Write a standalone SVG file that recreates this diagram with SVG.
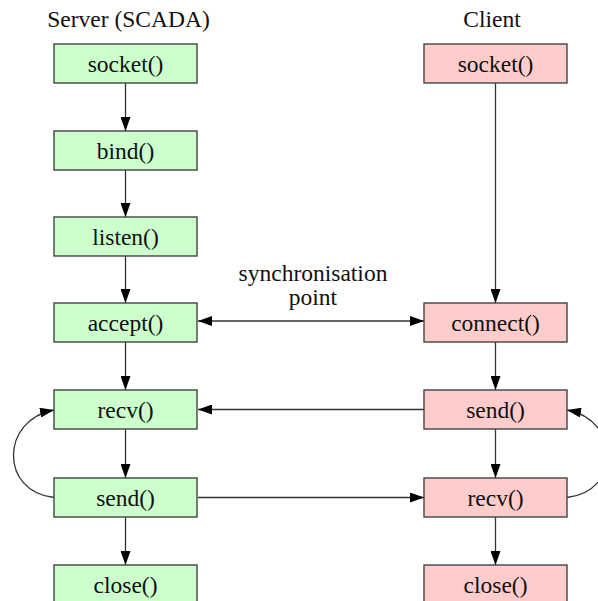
<svg xmlns="http://www.w3.org/2000/svg" width="598" height="601" viewBox="0 0 598 601">
<style>
text{font-family:'Liberation Serif','DejaVu Serif',serif;font-size:23.5px;fill:#111;text-anchor:middle}
.s rect{fill:#ccffcc;stroke:#444;stroke-width:1.4}
.c rect{fill:#ffcccc;stroke:#444;stroke-width:1.4}
.ln{fill:none;stroke:#333;stroke-width:1.3}
</style>
<defs>
<marker id="ah" viewBox="0 0 14 10" refX="14" refY="5" markerWidth="14" markerHeight="10" markerUnits="userSpaceOnUse" orient="auto-start-reverse">
<path d="M0,0 L14,5 L0,10 z" fill="#000"/>
</marker>
</defs>
<rect width="598" height="601" fill="#fff"/>
<g font-family="Liberation Serif, DejaVu Serif, serif">
<text x="128.5" y="27">Server (SCADA)</text>
<text x="492" y="27">Client</text>
<text x="313" y="281">synchronisation</text>
<text x="313" y="305">point</text>
</g>
<g id="connectors" class="ln" marker-end="url(#ah)">
<line x1="125.5" y1="83" x2="125.5" y2="131"/>
<line x1="125.5" y1="170" x2="125.5" y2="217"/>
<line x1="125.5" y1="256" x2="125.5" y2="303"/>
<line x1="125.5" y1="342" x2="125.5" y2="390"/>
<line x1="125.5" y1="429" x2="125.5" y2="478"/>
<line x1="125.5" y1="517" x2="125.5" y2="565"/>
<line x1="495.5" y1="83" x2="495.5" y2="303"/>
<line x1="495.5" y1="342" x2="495.5" y2="390"/>
<line x1="495.5" y1="429" x2="495.5" y2="478"/>
<line x1="495.5" y1="517" x2="495.5" y2="565"/>
<line x1="198" y1="321" x2="424" y2="321" marker-start="url(#ah)"/>
<line x1="424" y1="409.5" x2="198" y2="409.5"/>
<line x1="198" y1="497.5" x2="424" y2="497.5"/>
<path d="M54,497.5 C0,492 0,420 54,410"/>
<path d="M567,497.5 C621,492 621,420 567,410"/>
</g>
<g id="s_socket" class="s"><rect x="54" y="44" width="143" height="39"/><text x="125.5" y="72">socket()</text></g>
<g id="s_bind" class="s"><rect x="54" y="131" width="143" height="39"/><text x="125.5" y="159">bind()</text></g>
<g id="s_listen" class="s"><rect x="54" y="217" width="143" height="39"/><text x="125.5" y="245">listen()</text></g>
<g id="s_accept" class="s"><rect x="54" y="303" width="143" height="39"/><text x="125.5" y="331">accept()</text></g>
<g id="s_recv" class="s"><rect x="54" y="390" width="143" height="39"/><text x="125.5" y="418">recv()</text></g>
<g id="s_send" class="s"><rect x="54" y="478" width="143" height="39"/><text x="125.5" y="506">send()</text></g>
<g id="s_close" class="s"><rect x="54" y="565" width="143" height="39"/><text x="125.5" y="593">close()</text></g>
<g id="c_socket" class="c"><rect x="424" y="44" width="143" height="39"/><text x="495.5" y="72">socket()</text></g>
<g id="c_connect" class="c"><rect x="424" y="303" width="143" height="39"/><text x="495.5" y="331">connect()</text></g>
<g id="c_send" class="c"><rect x="424" y="390" width="143" height="39"/><text x="495.5" y="418">send()</text></g>
<g id="c_recv" class="c"><rect x="424" y="478" width="143" height="39"/><text x="495.5" y="506">recv()</text></g>
<g id="c_close" class="c"><rect x="424" y="565" width="143" height="39"/><text x="495.5" y="593">close()</text></g>
</svg>
